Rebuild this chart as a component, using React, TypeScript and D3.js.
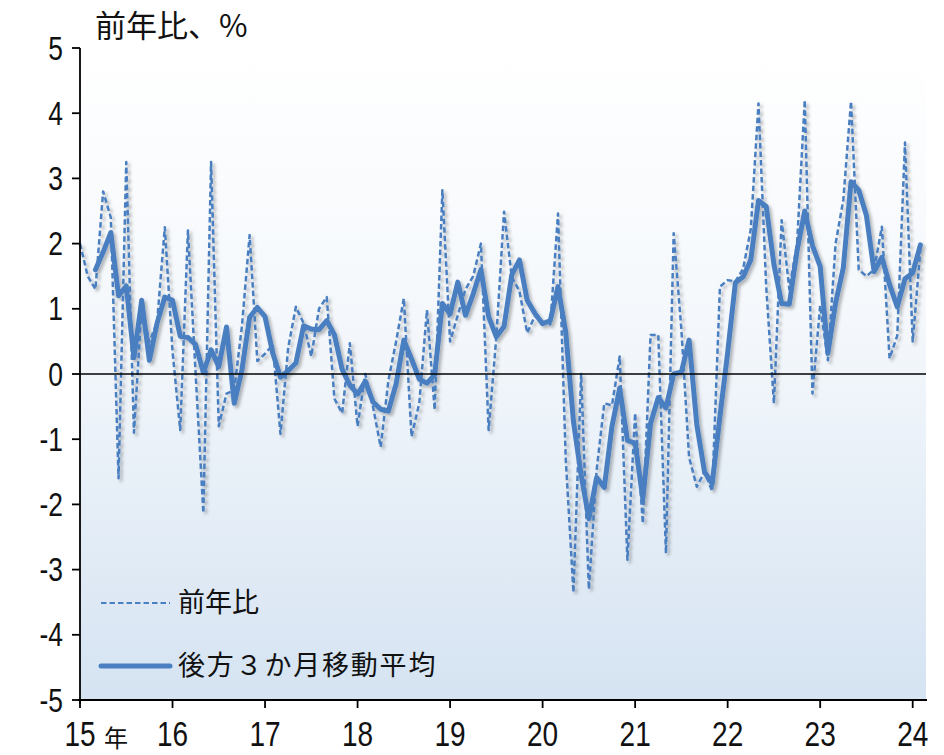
import React from "react";
import * as d3 from "d3";

// ---- data (monthly, Jan 2015 .. Feb 2024) ----
const START_YEAR = 2015;
const YEAR_LABELS = ["15", "16", "17", "18", "19", "20", "21", "22", "23", "24"];
const Y_TICKS = [-5, -4, -3, -2, -1, 0, 1, 2, 3, 4, 5];

// 前年比 (%)
const yoy: number[] = [
  2.0, 1.5, 1.3, 2.8, 2.4, -1.6, 3.25, -0.9, 1.04, 0.49, 0.8, 2.25,
  0.35, -0.86, 2.2, 0.0, -2.13, 3.25, -0.8, -0.3, -0.25, 0.73, 2.13, 0.2,
  0.31, 0.45, -0.92, 0.4, 1.03, 0.78, 0.27, 1.0, 1.18, -0.38, -0.6, 0.47,
  -0.8, 0.0, -0.5, -1.12, -0.1, 0.5, 1.16, -0.96, -0.45, 0.98, -0.55, 2.82,
  0.5, 0.9, 1.3, 1.5, 2.0, -0.86, 0.57, 2.49, 1.49, 1.27, 0.63, 0.89,
  0.8, 0.76, 2.46, -1.3, -3.35, 0.0, -3.3, -1.48, -0.45, -0.48, 0.27, -2.85,
  -0.6, -2.29, 0.6, 0.6, -2.75, 2.16, 0.68, -1.28, -1.73, -1.5, -1.8, 1.34,
  1.44, 1.42, 1.61, 2.22, 4.15, 1.34, -0.45, 2.36, 1.3, 2.0, 4.2, -0.3,
  1.05, 0.21, 2.0, 2.67, 4.18, 1.6, 1.5, 1.6, 2.26, 0.24, 0.59, 3.55,
  0.5, 1.9,
];

// 後方3か月移動平均 (%)
const ma3: (number | null)[] = [
  null, null, 1.6, 1.87, 2.17, 1.2, 1.35, 0.25, 1.13, 0.21, 0.78, 1.18,
  1.13, 0.58, 0.56, 0.45, 0.02, 0.37, 0.11, 0.72, -0.45, 0.06, 0.87, 1.02,
  0.88, 0.32, -0.05, 0.05, 0.17, 0.74, 0.69, 0.68, 0.82, 0.6, 0.07, -0.17,
  -0.31, -0.11, -0.43, -0.54, -0.57, -0.15, 0.52, 0.23, -0.08, -0.14, -0.01, 1.08,
  0.92, 1.41, 0.9, 1.23, 1.6, 0.88, 0.57, 0.73, 1.52, 1.75, 1.13, 0.93,
  0.77, 0.82, 1.34, 0.64, -0.73, -1.55, -2.22, -1.59, -1.74, -0.8, -0.22, -1.02,
  -1.06, -1.91, -0.76, -0.36, -0.52, 0.0, 0.03, 0.52, -0.78, -1.5, -1.68, -0.65,
  0.33, 1.4, 1.49, 1.75, 2.66, 2.57, 1.68, 1.08, 1.07, 1.89, 2.5, 1.97,
  1.65, 0.32, 1.09, 1.63, 2.95, 2.82, 2.43, 1.57, 1.79, 1.37, 1.03, 1.46,
  1.55, 1.98,
];

const LEGEND = ["前年比", "後方３か月移動平均"];
const TITLE = "前年比、%";
const YEAR_SUFFIX = "年";

const W = 944;
const H = 755;
const PLOT = { left: 80, right: 926, top: 48, bottom: 700 };
const BLUE = "#4a7fc1";
const NUM_FONT = "'Liberation Sans Narrow', 'Arial Narrow', 'Liberation Sans', Arial, sans-serif";
const JP_FONT = "'Noto Sans CJK JP', 'Noto Sans', sans-serif";
const NARROW = 0.8;

function NumText(props: {
  x: number;
  y: number;
  anchor: "start" | "middle" | "end";
  size: number;
  children: React.ReactNode;
}) {
  return (
    <text
      transform={`translate(${props.x},${props.y}) scale(${NARROW},1)`}
      textAnchor={props.anchor}
      fontFamily={NUM_FONT}
      fontSize={props.size}
      fill="#111"
    >
      {props.children}
    </text>
  );
}

export default function App() {
  const x = d3
    .scaleLinear()
    .domain([0, (YEAR_LABELS.length - 1) * 12])
    .range([80, 912.7]);
  const y = d3.scaleLinear().domain([-5, 5]).range([PLOT.bottom, PLOT.top]);

  const yoyLine = d3
    .line<number>()
    .x((_, i) => x(i))
    .y((d) => y(d));
  const maLine = d3
    .line<number | null>()
    .defined((d) => d != null)
    .x((_, i) => x(i))
    .y((d) => y(d as number));

  return (
    <svg
      width={W}
      height={H}
      viewBox={`0 0 ${W} ${H}`}
      style={{ position: "absolute", left: 0, top: 0, background: "#fff" }}
    >
      <defs>
        <linearGradient id="bg" x1="0" y1="0" x2="0" y2="1">
          <stop offset="0%" stopColor="#ffffff" />
          <stop offset="45%" stopColor="#f3f7fb" />
          <stop offset="100%" stopColor="#d5e3f2" />
        </linearGradient>
        <filter id="shadow" x="-5%" y="-5%" width="110%" height="110%">
          <feDropShadow dx="2.5" dy="2.5" stdDeviation="1.8" floodColor="#000" floodOpacity="0.28" />
        </filter>
      </defs>

      <rect
        x={PLOT.left}
        y={PLOT.top}
        width={PLOT.right - PLOT.left}
        height={PLOT.bottom - PLOT.top}
        fill="url(#bg)"
      />

      {/* title */}
      <text x={95} y={37} fontFamily={JP_FONT} fontSize={31} fill="#111">
        {TITLE}
      </text>

      {/* series */}
      <g filter="url(#shadow)">
        <path
          d={yoyLine(yoy) || ""}
          fill="none"
          stroke={BLUE}
          strokeWidth={2.5}
          strokeDasharray="5.5,3"
          strokeLinejoin="round"
        />
        <path
          d={maLine(ma3) || ""}
          fill="none"
          stroke={BLUE}
          strokeWidth={5}
          strokeLinejoin="round"
          strokeLinecap="round"
        />
      </g>

      {/* zero line */}
      <line x1={PLOT.left} x2={PLOT.right} y1={y(0)} y2={y(0)} stroke="#000" strokeWidth={1.6} />

      {/* y axis */}
      <line x1={PLOT.left} x2={PLOT.left} y1={PLOT.top} y2={PLOT.bottom + 4} stroke="#000" strokeWidth={1.8} />
      {Y_TICKS.map((t) => (
        <g key={t}>
          <line x1={PLOT.left - 8} x2={PLOT.left} y1={y(t)} y2={y(t)} stroke="#000" strokeWidth={1.8} />
          <NumText x={PLOT.left - 17} y={y(t) + 11.5} anchor="end" size={33}>
            {t}
          </NumText>
        </g>
      ))}

      {/* x axis */}
      <line x1={PLOT.left - 2} x2={PLOT.right + 1} y1={PLOT.bottom} y2={PLOT.bottom} stroke="#000" strokeWidth={1.8} />
      {YEAR_LABELS.map((lab, k) => (
        <g key={lab}>
          <line x1={x(k * 12)} x2={x(k * 12)} y1={PLOT.bottom} y2={PLOT.bottom + 8} stroke="#000" strokeWidth={1.8} />
          <NumText x={x(k * 12)} y={746} anchor="middle" size={35}>
            {lab}
          </NumText>
        </g>
      ))}
      <text x={104} y={747} fontFamily={JP_FONT} fontSize={24} fill="#111">
        {YEAR_SUFFIX}
      </text>

      {/* legend */}
      <line x1={101} x2={170} y1={603} y2={603} stroke={BLUE} strokeWidth={2.2} strokeDasharray="5.5,3" />
      <text x={178} y={603} dy="0.35em" fontFamily={JP_FONT} fontSize={27} fill="#111">
        {LEGEND[0]}
      </text>
      <line x1={101} x2={170} y1={666} y2={666} stroke={BLUE} strokeWidth={5} strokeLinecap="round" />
      <text x={178} y={666} dy="0.35em" fontFamily={JP_FONT} fontSize={27} letterSpacing={1.8} fill="#111">
        {LEGEND[1]}
      </text>
    </svg>
  );
}
